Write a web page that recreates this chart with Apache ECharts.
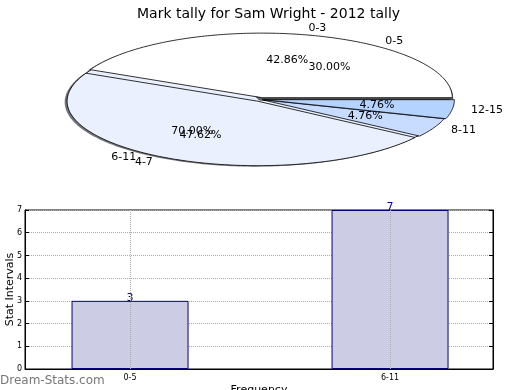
<!DOCTYPE html>
<html>
<head>
<meta charset="utf-8">
<script src="https://cdn.jsdelivr.net/npm/echarts@6/dist/echarts.min.js"></script>
<style>html,body{margin:0;padding:0;background:#fff}#c{width:520px;height:390px}</style>
</head>
<body>
<div id="c"></div>
<script>
// ---- data ----
const titleText = 'Mark tally for Sam Wright - 2012 tally';
const pieALabels = ['0-3', '4-7', '8-11', '12-15'];
const pieAValues = [9, 10, 1, 1];
const pieBLabels = ['0-5', '6-11'];
const pieBValues = [3, 7];
const barCategories = ['0-5', '6-11'];
const barValues = [3, 7];
const yTicks = [0, 1, 2, 3, 4, 5, 6, 7];

// ---- styles ----
const pieAColors = ['#ffffff', '#eaf0fe', '#c8dcff', '#b5d3ff'];
const pieBColors = ['#ffffff', '#eaf0fe'];
const pieAExplode = [0.03, 0.03, 0.01, 0.018];
const pieBExplode = [0.015, 0.01];
const FONT = '"DejaVu Sans", sans-serif';

function slices(values, explode) {
  const total = values.reduce((a, b) => a + b, 0);
  let acc = 0;
  return values.map((v, i) => {
    const s = acc / total * 360;
    acc += v;
    const e = acc / total * 360;
    const mid = (s + e) / 2 * Math.PI / 180;
    return {s, e, mid, pct: v / total * 100, ex: explode[i] * Math.cos(mid), ey: explode[i] * Math.sin(mid)};
  });
}
const slA = slices(pieAValues, pieAExplode);
const slB = slices(pieBValues, pieBExplode);

function wedgePoints(api, sl, dx, dy) {
  const pts = [api.coord([sl.ex + dx, sl.ey + dy])];
  const n = Math.max(4, Math.ceil((sl.e - sl.s) / 1));
  for (let k = 0; k <= n; k++) {
    const a = (sl.s + (sl.e - sl.s) * k / n) * Math.PI / 180;
    pts.push(api.coord([sl.ex + dx + Math.cos(a), sl.ey + dy + Math.sin(a)]));
  }
  return pts;
}
function shadowColor(hex) {
  const r = parseInt(hex.slice(1, 3), 16), g = parseInt(hex.slice(3, 5), 16), b = parseInt(hex.slice(5, 7), 16);
  return 'rgba(' + Math.round(r * 0.3) + ',' + Math.round(g * 0.3) + ',' + Math.round(b * 0.3) + ',0.75)';
}
function wedgeSeries(sl, colors, shadow) {
  return {
    type: 'custom', xAxisIndex: 0, yAxisIndex: 0, clip: false, silent: true,
    data: sl.map((d, i) => [i]),
    renderItem: function (params, api) {
      const d = sl[params.dataIndex];
      if (shadow) {
        return {type: 'polygon', shape: {points: wedgePoints(api, d, -0.013, -0.015)},
          style: {fill: shadowColor(colors[params.dataIndex]), stroke: null}};
      }
      return {type: 'polygon', shape: {points: wedgePoints(api, d, 0, 0)},
        style: {fill: colors[params.dataIndex], stroke: '#000', lineWidth: 0.8, lineJoin: 'round'}};
    }
  };
}
function textSeries(sl, labels) {
  return {
    type: 'custom', xAxisIndex: 0, yAxisIndex: 0, clip: false, silent: true,
    data: sl.map((d, i) => [i]),
    renderItem: function (params, api) {
      const d = sl[params.dataIndex];
      const c = Math.cos(d.mid), s = Math.sin(d.mid);
      const lp = api.coord([d.ex + 1.1 * c, d.ey + 1.1 * s]);
      const pp = api.coord([d.ex + 0.6 * c, d.ey + 0.6 * s]);
      return {type: 'group', children: [
        {type: 'text', style: {text: labels[params.dataIndex], x: lp[0], y: lp[1], font: '11px ' + FONT,
          fill: '#000', align: c >= 0 ? 'left' : 'right', verticalAlign: 'middle'}},
        {type: 'text', style: {text: d.pct.toFixed(2) + '%', x: pp[0], y: pp[1], font: '11px ' + FONT,
          fill: '#000', align: 'center', verticalAlign: 'middle'}}
      ]};
    }
  };
}

const catIdx = barCategories.map((c, i) => i);
const chart = echarts.init(document.getElementById('c'), null, {renderer: 'canvas'});
chart.setOption({
  animation: false,
  backgroundColor: '#fff',
  title: {text: titleText, left: 132, top: 2,
    textStyle: {fontFamily: FONT, fontSize: 14, fontWeight: 'normal', color: '#000'}},
  graphic: [{type: 'text', left: 0, top: 375,
    style: {text: 'Dream-Stats.com', font: '12px ' + FONT, fill: '#777'}}],
  grid: [
    {left: 70, top: 35, width: 381, height: 129, show: false, outerBoundsMode: 'none', containLabel: false},
    {left: 25, right: 27, top: 210, bottom: 21, show: true, borderColor: '#000', borderWidth: 1,
      backgroundColor: 'transparent', outerBoundsMode: 'none', containLabel: false}
  ],
  xAxis: [
    {gridIndex: 0, type: 'value', min: -1, max: 1, show: false},
    {gridIndex: 1, type: 'value', min: -0.404, max: 1.396,
      axisLine: {onZero: false, lineStyle: {color: '#000'}}, axisTick: {show: false},
      axisLabel: {fontFamily: FONT, fontSize: 8, color: '#000', margin: 5,
        customValues: catIdx, formatter: v => barCategories[Math.round(v)]},
      splitLine: {show: false},
      name: 'Frequency', nameLocation: 'middle', nameGap: 16,
      nameTextStyle: {fontFamily: FONT, fontSize: 11, color: '#000'}}
  ],
  yAxis: [
    {gridIndex: 0, type: 'value', min: -1, max: 1, show: false},
    {gridIndex: 1, type: 'value', min: yTicks[0], max: yTicks[yTicks.length - 1], interval: 1,
      axisLine: {show: true, onZero: false, lineStyle: {color: '#000'}},
      axisTick: {show: true, inside: true, length: 4, lineStyle: {color: '#000'}},
      axisLabel: {fontFamily: FONT, fontSize: 8, color: '#000', margin: 3},
      splitLine: {show: true, lineStyle: {color: '#aaa', type: 'dotted', width: 1}},
      name: 'Stat Intervals', nameLocation: 'middle', nameGap: 9, nameRotate: 90, nameMoveOverlap: false,
      nameTextStyle: {fontFamily: FONT, fontSize: 11, color: '#000'}},
    {gridIndex: 1, type: 'value', position: 'right', min: yTicks[0], max: yTicks[yTicks.length - 1], interval: 1,
      axisLine: {show: true, onZero: false, lineStyle: {color: '#000'}},
      axisTick: {show: true, inside: true, length: 4, lineStyle: {color: '#000'}},
      axisLabel: {show: false}, splitLine: {show: false}}
  ],
  series: [
    wedgeSeries(slB, pieBColors, true),
    wedgeSeries(slA, pieAColors, true),
    wedgeSeries(slB, pieBColors, false),
    wedgeSeries(slA, pieAColors, false),
    textSeries(slB, pieBLabels),
    textSeries(slA, pieALabels),
    {type: 'bar', xAxisIndex: 1, yAxisIndex: 1, data: barValues.map((v, i) => [catIdx[i], v]), barWidth: '45%', z: 1,
      itemStyle: {color: '#ccccE5', borderColor: '#000080', borderWidth: 1},
      label: {show: true, position: 'top', distance: -3, fontFamily: FONT, fontSize: 11, color: '#000080'},
      markLine: {silent: true, symbol: 'none', label: {show: false}, z: 3,
        lineStyle: {color: '#aaa', type: 'dotted', width: 1},
        data: catIdx.map(i => ({xAxis: i}))}}
  ]
});
</script>
</body>
</html>
